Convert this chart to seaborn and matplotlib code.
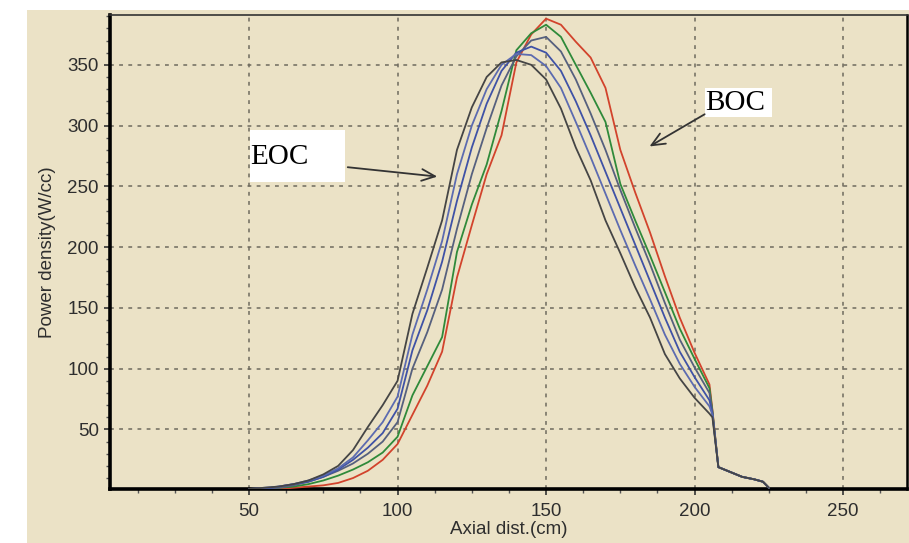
import matplotlib
matplotlib.use("Agg")
import matplotlib.pyplot as plt
from matplotlib.patches import Rectangle
from matplotlib.ticker import MultipleLocator
import numpy as np
import pandas as pd
import seaborn as sns

# Axial positions (cm) shared by all burnup steps
axial_cm = [50, 55, 60, 65, 70, 75, 80, 85, 90, 95, 100, 105, 110, 115, 120, 125,
            130, 135, 140, 145, 150, 155, 160, 165, 170, 175, 180, 185, 190, 195,
            200, 205, 206, 208, 212, 216, 220, 223, 225]

# Power density (W/cc) from beginning of cycle to end of cycle
boc = [0, 1, 1, 2, 3, 4, 6, 10, 16, 25, 38, 62, 86, 114, 175, 218, 260, 292, 352, 375,
       388, 383, 369, 356, 331, 280, 245, 212, 176, 142, 113, 87, 66, 19, 15, 11, 9, 7, 2]
step2 = [0, 1, 2, 3, 5, 8, 12, 17, 23, 31, 44, 78, 102, 126, 196, 235, 268, 312, 362, 376,
         383, 373, 350, 327, 303, 252, 222, 193, 163, 133, 108, 84, 65, 19, 15, 11, 9, 7, 2]
step3 = [0, 1, 2, 4, 7, 11, 16, 22, 30, 40, 56, 100, 130, 165, 215, 260, 298, 333, 357, 370,
         373, 361, 338, 310, 280, 247, 216, 186, 154, 124, 101, 80, 64, 19, 15, 11, 9, 7, 2]
step4 = [0, 1, 3, 5, 7, 11, 17, 25, 35, 47, 67, 115, 148, 188, 238, 282, 318, 345, 360, 365,
         360, 345, 320, 292, 262, 232, 202, 172, 142, 114, 93, 74, 63, 19, 15, 11, 9, 7, 2]
step5 = [1, 2, 3, 5, 8, 12, 18, 27, 41, 56, 77, 128, 165, 205, 260, 300, 330, 350, 359, 358,
         349, 331, 303, 274, 244, 214, 185, 157, 128, 104, 85, 69, 62, 19, 15, 11, 9, 7, 2]
eoc = [1, 2, 3, 5, 8, 13, 20, 33, 52, 70, 90, 145, 183, 222, 280, 315, 340, 352, 354, 350,
       338, 314, 282, 255, 222, 195, 167, 142, 112, 92, 76, 63, 60, 19, 15, 11, 9, 7, 2]

step_names = ["BOC", "step 2", "step 3", "step 4", "step 5", "EOC"]
step_values = [boc, step2, step3, step4, step5, eoc]
step_colors = ["#d2432c", "#2f8a3a", "#56607e", "#3f52a6", "#5c6bb0", "#454545"]

frames = [pd.DataFrame({"x": axial_cm, "p": v, "step": n})
          for n, v in zip(step_names, step_values)]
df = pd.concat(frames, ignore_index=True)

sns.set_theme(style="ticks")
plt.rcParams["font.family"] = ["Liberation Sans", "DejaVu Sans"]

beige = "#ebe2c6"
fig = plt.figure(figsize=(9.09, 5.43), dpi=100, facecolor="white")
fig.patches.append(Rectangle((27 / 909, 0), 1, 1 - 10 / 543, transform=fig.transFigure,
                             facecolor=beige, edgecolor="none", zorder=-10))
ax = fig.add_axes([110 / 909, 54 / 543, 797 / 909, 474 / 543])
ax.set_facecolor(beige)

sns.lineplot(data=df, x="x", y="p", hue="step", palette=step_colors,
             hue_order=step_names, estimator=None, sort=False, linewidth=1.3,
             legend=False, ax=ax, zorder=3)

ax.set_xlim(3.2, 271.5)
ax.set_ylim(1, 391)
ax.xaxis.set_minor_locator(MultipleLocator(12.5))
ax.yaxis.set_minor_locator(MultipleLocator(10))
ax.set_xticks([50, 100, 150, 200, 250])
ax.set_yticks([50, 100, 150, 200, 250, 300, 350])

ax.grid(True, which="major", color="#6e6a5e", linestyle=(0, (2.5, 3.5)), linewidth=1.1)
ax.tick_params(axis="both", which="major", length=4, width=1.2, colors="#333333",
               labelsize=13.5, labelcolor="#2e2e2e", pad=4)
ax.tick_params(axis="x", which="major", pad=6)
ax.tick_params(axis="both", which="minor", length=3, width=1.0, colors="#555555")

for side in ["left", "bottom"]:
    ax.spines[side].set_linewidth(2.6)
    ax.spines[side].set_color("black")
ax.spines["top"].set_linewidth(1.2)
ax.spines["top"].set_color("#333333")
ax.spines["right"].set_linewidth(1.8)
ax.spines["right"].set_color("black")

ax.set_xlabel("Axial dist.(cm)", fontsize=13.5, color="#2e2e2e", labelpad=1)
ax.set_ylabel("Power density(W/cc)", fontsize=13.5, color="#2e2e2e", labelpad=8)

# Labelled boxes with arrows pointing at the first and last burnup curves
ax.add_patch(Rectangle((50.3, 253.7), 32.0, 42.8, facecolor="white", edgecolor="none", zorder=4))
ax.text(50.5, 274, "EOC", fontsize=21, family="Liberation Serif", va="center", ha="left",
        color="black", zorder=5)
ax.annotate("", xy=(114.3, 257.8), xytext=(82.3, 266.0),
            arrowprops=dict(arrowstyle="->,head_length=0.8,head_width=0.35",
                            color="#333333", lw=1.3), zorder=5)

ax.add_patch(Rectangle((203.5, 307.2), 22.6, 23.8, facecolor="white", edgecolor="none", zorder=4))
ax.text(203.7, 319, "BOC", fontsize=21, family="Liberation Serif", va="center", ha="left",
        color="black", zorder=5)
ax.annotate("", xy=(184.0, 281.7), xytext=(204.2, 310.5),
            arrowprops=dict(arrowstyle="->,head_length=0.8,head_width=0.35",
                            color="#333333", lw=1.3), zorder=5)

fig.savefig("out.png", dpi=100, facecolor=fig.get_facecolor())
